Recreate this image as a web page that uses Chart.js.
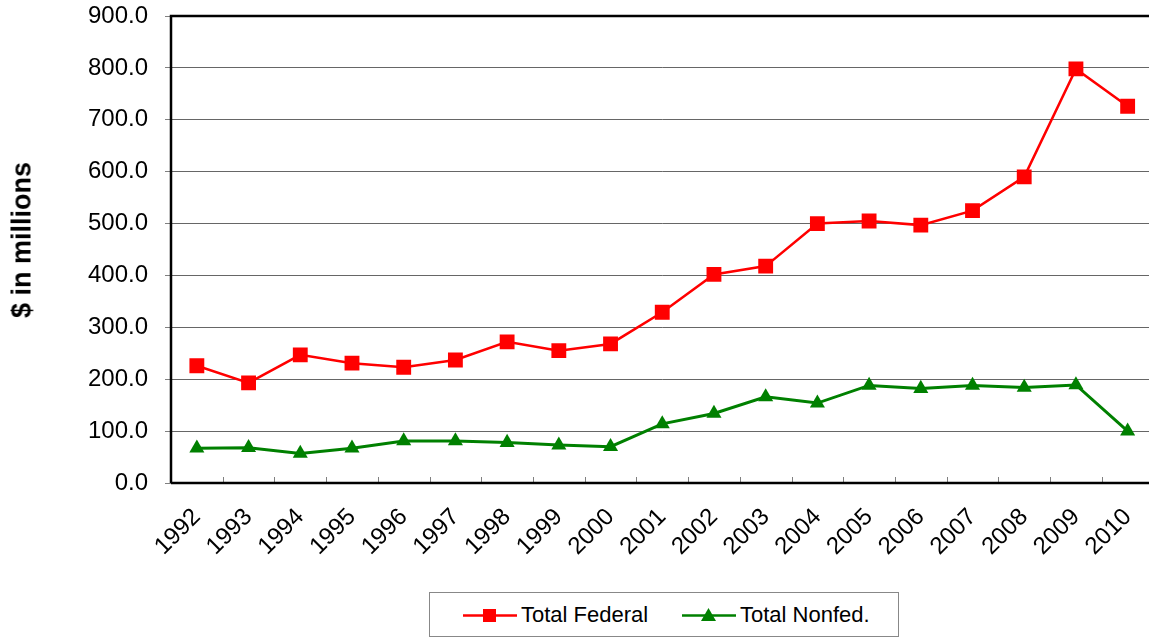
<!DOCTYPE html>
<html>
<head>
<meta charset="utf-8">
<script src="https://cdn.jsdelivr.net/npm/chart.js@4.4.1/dist/chart.umd.min.js"></script>
<style>
  html, body { margin: 0; padding: 0; background: #fff; overflow: hidden; width: 1149px; height: 637px; }
  #wrap { position: absolute; left: 0; top: 0; width: 1164px; height: 637px; }
  #ytitle { position: absolute; left: 22px; top: 240px; transform: translate(-50%, -50%) rotate(-90deg); white-space: nowrap;
            font-family: Arial, "Liberation Sans", sans-serif; font-size: 27px; font-weight: bold; color: #000; line-height: 1; }
  #legend { position: absolute; left: 429px; top: 592px; width: 468px; height: 43px; border: 1px solid #888; background: #fff;
            font-family: Arial, "Liberation Sans", sans-serif; font-size: 22px; color: #000; }
  .item { position: absolute; top: 0; height: 43px; display: flex; align-items: center; }
  .item svg { margin-right: 4px; }
</style>
</head>
<body>
<div id="wrap"><canvas id="c" width="1164" height="637"></canvas></div>
<div id="ytitle"></div>
<div id="legend"></div>
<script>
const years = ['1992','1993','1994','1995','1996','1997','1998','1999','2000','2001','2002','2003','2004','2005','2006','2007','2008','2009','2010'];
const totalFederal = [226,193,247,231,223,237,272,255,268,329,402,418,500,505,497,525,590,798,726];
const totalNonfed = [67,68,57,67,81,81,78,73,70,114,134,166,154,188,182,188,184,189,100];
const seriesNames = ['Total Federal','Total Nonfed.'];
const yTicks = [0,100,200,300,400,500,600,700,800,900];
const yTitle = '$ in millions';

const FONT = 'Arial, "Liberation Sans", sans-serif';
document.getElementById('ytitle').textContent = yTitle;

const framePlugin = {
  id: 'frame',
  beforeDatasetsDraw(chart) {
    const {ctx, chartArea: a, scales} = chart;
    ctx.save();
    ctx.strokeStyle = '#808080';
    ctx.lineWidth = 1;
    const xs = scales.x;
    for (let i = 1; i < years.length; i++) {
      const px = Math.round(xs.getPixelForValue(i - 0.5)) + 0.5;
      ctx.beginPath();
      ctx.moveTo(px, a.bottom);
      ctx.lineTo(px, a.bottom - 6);
      ctx.stroke();
    }
    ctx.strokeStyle = '#000';
    ctx.lineWidth = 2.5;
    ctx.beginPath();
    ctx.moveTo(a.left, a.bottom);
    ctx.lineTo(a.left, a.top);
    ctx.lineTo(a.right + 5, a.top);
    ctx.moveTo(a.left, a.bottom);
    ctx.lineTo(a.right + 5, a.bottom);
    ctx.stroke();
    ctx.restore();
  }
};

new Chart(document.getElementById('c'), {
  type: 'line',
  data: {
    labels: years,
    datasets: [
      { label: seriesNames[0], data: totalFederal, borderColor: '#FF0000', backgroundColor: '#FF0000',
        borderWidth: 2.5, pointStyle: 'rect', pointRadius: 10.5, pointHoverRadius: 10.5, pointBorderWidth: 0, tension: 0 },
      { label: seriesNames[1], data: totalNonfed, borderColor: '#008000', backgroundColor: '#008000',
        borderWidth: 3, pointStyle: 'triangle', pointRadius: 8.7, pointHoverRadius: 8.7, pointBorderWidth: 0, tension: 0 }
    ]
  },
  options: {
    responsive: false,
    animation: false,
    devicePixelRatio: 1,
    layout: { padding: { left: 0, top: 16, right: 0, bottom: 0 } },
    plugins: { legend: { display: false }, tooltip: { enabled: false } },
    scales: {
      x: {
        offset: true,
        grid: { display: false, offset: true },
        border: { display: false },
        ticks: { color: '#000', font: { family: FONT, size: 24 }, minRotation: 45, maxRotation: 45, padding: 12, autoSkip: false },
        afterFit(s) { s.height = 637 - 483; s.paddingLeft = 0; s.paddingRight = 0; }
      },
      y: {
        min: 0, max: 900,
        afterBuildTicks(s) { s.ticks = yTicks.map(v => ({ value: v })); },
        grid: { color: '#666', lineWidth: 1, tickLength: 6, tickColor: '#808080' },
        border: { display: false },
        ticks: { color: '#000', font: { family: FONT, size: 24 }, padding: 17, callback: v => Number(v).toFixed(1) },
        title: { display: false },
        afterFit(s) { s.width = 171; s.paddingTop = 0; s.paddingBottom = 0; }
      }
    }
  },
  plugins: [framePlugin]
});

const legend = document.getElementById('legend');
const legendDefs = [
  { name: seriesNames[0], color: '#FF0000', marker: 'rect', left: 33 },
  { name: seriesNames[1], color: '#008000', marker: 'tri', left: 252 }
];
legendDefs.forEach(d => {
  const it = document.createElement('div');
  it.className = 'item';
  it.style.left = d.left + 'px';
  const m = d.marker === 'rect'
    ? '<rect x="20" y="6" width="13" height="13" fill="' + d.color + '"/>'
    : '<polygon points="26.5,5 34,18 19,18" fill="' + d.color + '"/>';
  it.innerHTML = '<svg width="54" height="24" viewBox="0 0 54 24"><line x1="0" y1="12.5" x2="54" y2="12.5" stroke="' + d.color + '" stroke-width="2.5"/>' + m + '</svg><span>' + d.name + '</span>';
  legend.appendChild(it);
});
</script>
</body>
</html>
